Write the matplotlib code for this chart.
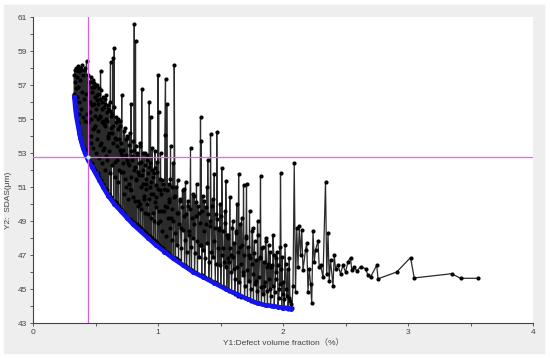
import numpy as np
import matplotlib
matplotlib.use("Agg")
import matplotlib.pyplot as plt
from matplotlib.patches import Rectangle

plt.rcParams['font.family'] = ['Liberation Sans', 'Noto Sans CJK SC', 'DejaVu Sans']

# --- Pareto front (blue) ---
front_x = [0.330, 0.335, 0.340, 0.350, 0.360, 0.370, 0.380, 0.400, 0.420, 0.440,
           0.470, 0.500, 0.530, 0.560, 0.600, 0.650, 0.700, 0.750, 0.800, 0.860,
           0.920, 0.980, 1.050, 1.120, 1.200, 1.280, 1.360, 1.450, 1.540, 1.630,
           1.720, 1.800, 1.860, 1.920, 1.960, 2.000, 2.030, 2.060]
front_y = [56.3, 55.9, 55.5, 55.0, 54.6, 54.2, 53.8, 53.3, 52.9, 52.6,
           52.2, 51.8, 51.4, 51.0, 50.5, 50.0, 49.6, 49.2, 48.8, 48.4,
           48.0, 47.6, 47.2, 46.8, 46.4, 46.0, 45.7, 45.35, 45.0, 44.7,
           44.4, 44.15, 44.05, 44.0, 43.95, 43.9, 43.9, 43.85]

# --- all evaluated designs (black) ---
xa = [0.330, 0.331, 0.333, 0.335, 0.336, 0.338, 0.340, 0.342, 0.344, 0.346,
      0.348, 0.350, 0.352, 0.354, 0.356, 0.358, 0.360, 0.362, 0.364, 0.366,
      0.368, 0.370, 0.372, 0.374, 0.376, 0.378, 0.380, 0.383, 0.386, 0.389,
      0.392, 0.395, 0.398, 0.401, 0.404, 0.407, 0.410, 0.413, 0.416, 0.419,
      0.422, 0.425, 0.428, 0.431, 0.434, 0.437, 0.440, 0.443, 0.446, 0.449]
ya = [56.5, 57.6, 56.0, 57.9, 55.7, 57.2, 55.4, 58.0, 55.2, 56.8,
      57.9, 55.0, 56.3, 57.5, 54.8, 58.1, 54.7, 56.9, 55.3, 57.8,
      54.3, 56.0, 58.0, 54.1, 57.3, 53.9, 55.6, 57.9, 53.7, 56.6,
      58.2, 53.5, 55.1, 57.6, 53.3, 56.2, 57.9, 53.2, 54.9, 58.0,
      52.95, 56.5, 58.4, 52.9, 55.3, 57.6, 52.7, 54.8, 57.2, 52.6]

xb = [0.452, 0.456, 0.460, 0.464, 0.468, 0.472, 0.476, 0.480, 0.484, 0.488,
      0.492, 0.496, 0.500, 0.504, 0.508, 0.512, 0.516, 0.520, 0.524, 0.528,
      0.532, 0.536, 0.540, 0.544, 0.548, 0.552, 0.556, 0.560, 0.564, 0.568,
      0.572, 0.576, 0.580, 0.584, 0.588, 0.592, 0.596, 0.600, 0.605, 0.610,
      0.615, 0.620, 0.625, 0.630, 0.635, 0.640, 0.645, 0.650, 0.655, 0.660,
      0.665, 0.670, 0.675, 0.680, 0.685, 0.690, 0.695, 0.700, 0.705, 0.710]
yb = [56.0, 52.5, 57.5, 53.6, 52.4, 55.8, 57.3, 52.2, 54.5, 56.9,
      52.0, 55.2, 57.0, 51.9, 53.8, 56.4, 51.8, 55.0, 56.8, 51.6,
      53.5, 56.2, 57.84, 51.4, 54.8, 56.0, 51.2, 53.2, 55.7, 51.0,
      54.6, 56.2, 50.9, 52.8, 55.4, 50.8, 54.0, 55.8, 50.6, 53.1,
      55.5, 58.35, 50.4, 54.2, 55.3, 58.6, 50.2, 59.2, 52.5, 50.1,
      54.8, 50.0, 53.4, 55.0, 49.9, 52.0, 54.6, 49.7, 53.0, 56.4]

xc = [0.715, 0.720, 0.725, 0.730, 0.735, 0.740, 0.745, 0.750, 0.755, 0.760,
      0.765, 0.770, 0.775, 0.780, 0.785, 0.790, 0.795, 0.800, 0.805, 0.810,
      0.815, 0.820, 0.825, 0.830, 0.835, 0.840, 0.845, 0.850, 0.855, 0.860,
      0.865, 0.870, 0.875, 0.880, 0.885, 0.890, 0.895, 0.900, 0.905, 0.910,
      0.915, 0.920, 0.925, 0.930, 0.935, 0.940, 0.945, 0.950, 0.955, 0.960,
      0.965, 0.970, 0.975, 0.980, 0.985, 0.990, 0.995, 1.000, 1.005, 1.010]
yc = [49.6, 52.4, 54.3, 49.5, 51.5, 53.8, 49.3, 52.6, 54.0, 49.2,
      51.2, 53.5, 49.1, 50.8, 55.9, 49.0, 52.8, 48.9, 53.2, 60.57,
      48.9, 59.6, 51.5, 48.8, 53.0, 50.2, 48.7, 52.4, 53.4, 48.6,
      51.0, 56.76, 48.5, 52.0, 50.3, 48.4, 53.0, 51.2, 48.3, 52.6,
      50.0, 48.2, 52.2, 56.0, 48.1, 55.1, 50.6, 48.0, 52.0, 49.5,
      47.9, 51.8, 53.1, 47.8, 50.4, 52.5, 47.7, 57.6, 55.4, 47.6]

xd = [1.015, 1.020, 1.025, 1.030, 1.035, 1.040, 1.045, 1.050, 1.055, 1.060,
      1.065, 1.070, 1.075, 1.080, 1.085, 1.090, 1.095, 1.100, 1.105, 1.110,
      1.115, 1.120, 1.125, 1.130, 1.135, 1.140, 1.148, 1.156, 1.164, 1.172,
      1.180, 1.188, 1.196, 1.204, 1.212, 1.220, 1.228, 1.236, 1.244, 1.252,
      1.260, 1.268, 1.276, 1.284, 1.292, 1.300, 1.308, 1.316, 1.324, 1.332,
      1.340, 1.345, 1.350, 1.358, 1.366, 1.374, 1.382, 1.390, 1.398, 1.406,
      1.414, 1.420, 1.428, 1.436, 1.444, 1.450, 1.458, 1.466, 1.470, 1.478,
      1.486, 1.494, 1.502, 1.510, 1.518, 1.526, 1.534, 1.542, 1.550, 1.558]
yd = [50.8, 53.0, 47.5, 51.4, 49.6, 47.4, 50.9, 47.3, 54.06, 57.35,
      47.2, 55.9, 49.8, 47.1, 51.2, 50.3, 47.0, 53.4, 49.2, 46.9,
      51.0, 52.4, 46.8, 58.2, 50.5, 46.8, 49.5, 51.4, 46.7, 50.2,
      48.6, 46.5, 50.8, 49.3, 46.4, 51.3, 46.3, 49.9, 48.2, 46.2,
      53.3, 46.1, 50.6, 48.8, 46.0, 50.1, 51.2, 45.9, 49.5, 47.6,
      55.1, 53.7, 45.8, 50.5, 48.4, 45.7, 49.8, 51.0, 52.6, 45.6,
      49.0, 54.1, 45.5, 50.3, 47.8, 51.76, 45.4, 49.4, 54.25, 45.3,
      48.6, 50.0, 45.2, 52.1, 47.4, 45.1, 49.6, 51.35, 45.0, 48.2]

xe = [1.566, 1.574, 1.582, 1.590, 1.598, 1.606, 1.614, 1.622, 1.630, 1.638,
      1.645, 1.652, 1.660, 1.668, 1.676, 1.684, 1.692, 1.700, 1.708, 1.716,
      1.724, 1.732, 1.740, 1.748, 1.756, 1.764, 1.772, 1.780, 1.788, 1.796,
      1.804, 1.812, 1.820, 1.828, 1.836, 1.844, 1.852, 1.860, 1.868, 1.876,
      1.884, 1.892, 1.900, 1.910, 1.920, 1.930, 1.940, 1.950, 1.960, 1.970,
      1.980, 1.985, 1.990, 2.000, 2.010, 2.020, 2.030, 2.040, 2.050, 2.060,
      2.070, 2.080, 2.090, 2.100]
ye = [44.9, 50.4, 47.0, 44.8, 49.0, 46.2, 44.7, 48.4, 50.0, 44.6,
      51.76, 47.5, 44.55, 49.2, 46.0, 51.1, 44.5, 48.0, 51.2, 44.4,
      47.0, 49.6, 44.3, 46.5, 48.6, 44.25, 47.8, 45.5, 44.2, 49.0,
      44.15, 46.8, 51.66, 44.1, 47.5, 45.2, 44.05, 48.0, 46.3, 44.05,
      47.6, 45.0, 44.0, 46.4, 48.2, 44.0, 45.6, 47.2, 43.95, 45.0,
      51.8, 46.2, 43.9, 45.4, 43.9, 46.5, 44.6, 43.85, 46.8, 44.1,
      43.9, 45.2, 52.4, 44.8]

xf = [2.11, 2.12, 2.13, 2.14, 2.15, 2.16, 2.18, 2.19, 2.20, 2.21,
      2.22, 2.23, 2.24, 2.25, 2.26, 2.28, 2.29, 2.30, 2.32, 2.34,
      2.35, 2.36, 2.37, 2.38, 2.40, 2.41, 2.42, 2.44, 2.46, 2.48,
      2.50, 2.52, 2.54, 2.55, 2.57, 2.59, 2.62, 2.66, 2.68, 2.70,
      2.75, 2.76, 2.91, 3.02, 3.05, 3.35, 3.42, 3.56]
yf = [48.6, 46.3, 48.7, 47.0, 48.5, 46.1, 47.3, 47.7, 44.85, 46.2,
      45.3, 44.2, 48.4, 46.6, 47.3, 47.8, 46.3, 46.4, 45.7, 51.3,
      45.9, 48.3, 45.5, 46.7, 45.2, 47.0, 46.2, 46.4, 45.9, 46.4,
      46.0, 46.6, 46.85, 46.1, 46.3, 46.05, 46.3, 46.2, 45.8, 45.7,
      46.4, 45.6, 46.0, 46.85, 45.65, 45.9, 45.63, 45.63]

# extra designs in the dense band just above the front
xg1 = [0.458, 0.466, 0.474, 0.482, 0.490, 0.498, 0.506, 0.514, 0.522, 0.530,
       0.538, 0.546, 0.554, 0.562, 0.570, 0.578, 0.586, 0.594, 0.602, 0.612,
       0.622, 0.632, 0.642, 0.652, 0.662, 0.672, 0.682, 0.692, 0.702, 0.712]
yg1 = [55.4, 54.0, 56.6, 53.3, 55.9, 54.6, 53.0, 56.1, 54.3, 52.7,
       55.2, 53.6, 52.4, 54.9, 53.3, 52.0, 55.0, 52.6, 53.9, 51.8,
       54.5, 52.3, 53.6, 51.6, 53.8, 52.6, 51.3, 53.2, 51.9, 52.8]

xg2 = [0.718, 0.727, 0.737, 0.747, 0.757, 0.767, 0.777, 0.787, 0.797, 0.807,
       0.817, 0.827, 0.837, 0.847, 0.857, 0.867, 0.877, 0.887, 0.897, 0.907,
       0.917, 0.927, 0.937, 0.947, 0.957, 0.967, 0.977, 0.987, 0.997, 1.007]
yg2 = [51.9, 50.6, 52.8, 51.0, 50.3, 52.3, 50.9, 51.6, 50.4, 52.0,
       50.2, 51.4, 49.9, 51.7, 50.0, 49.7, 51.2, 50.5, 49.5, 50.9,
       49.4, 50.3, 51.0, 49.2, 50.6, 49.0, 50.1, 49.8, 48.9, 49.6]

xg3 = [1.018, 1.032, 1.046, 1.062, 1.078, 1.092, 1.108, 1.122, 1.138, 1.152,
       1.168, 1.184, 1.200, 1.216, 1.232, 1.248, 1.264, 1.280, 1.296, 1.312,
       1.328, 1.344, 1.362, 1.378, 1.394, 1.410, 1.426, 1.442, 1.460, 1.476,
       1.492, 1.508, 1.524, 1.540, 1.556]
yg3 = [49.0, 48.4, 49.6, 48.1, 49.2, 48.6, 47.9, 49.0, 48.3, 47.6,
       48.8, 47.4, 48.5, 47.9, 47.2, 48.4, 47.5, 48.0, 47.1, 47.8,
       46.9, 47.6, 47.3, 46.8, 47.7, 46.6, 47.2, 46.9, 46.5, 47.4,
       46.4, 47.0, 46.6, 46.3, 46.8]

xg4 = [1.570, 1.586, 1.602, 1.618, 1.634, 1.650, 1.664, 1.680, 1.696, 1.712,
       1.728, 1.744, 1.760, 1.776, 1.792, 1.808, 1.824, 1.840, 1.856, 1.872,
       1.888, 1.904, 1.916, 1.934, 1.946, 1.966, 1.976, 1.996, 2.006, 2.026,
       2.046, 2.056]
yg4 = [46.6, 46.0, 46.9, 45.6, 46.3, 45.4, 46.5, 45.8, 45.2, 46.1,
       45.5, 45.0, 45.9, 45.3, 44.9, 45.7, 45.1, 44.7, 45.4, 44.9,
       45.6, 44.6, 45.2, 44.8, 46.0, 44.5, 45.3, 44.7, 44.4, 45.0,
       44.5, 44.3]

# designs in the upper part of the dense cloud
xh1 = [0.454, 0.462, 0.470, 0.478, 0.486, 0.494, 0.502, 0.510, 0.518, 0.526,
       0.534, 0.542, 0.550, 0.558, 0.566, 0.574, 0.582, 0.590, 0.598, 0.607,
       0.617, 0.627, 0.637, 0.647, 0.657, 0.667, 0.677, 0.687, 0.697, 0.707]
yh1 = [57.2, 55.0, 56.9, 54.4, 57.1, 56.3, 55.6, 57.0, 55.9, 56.5,
       55.1, 56.7, 55.6, 56.3, 54.7, 55.9, 56.4, 54.9, 55.6, 54.2,
       56.0, 55.2, 54.6, 55.7, 53.9, 55.1, 54.4, 53.8, 54.9, 53.6]

xh2 = [0.722, 0.732, 0.742, 0.752, 0.762, 0.772, 0.782, 0.792, 0.802, 0.812,
       0.822, 0.832, 0.842, 0.852, 0.862, 0.872, 0.882, 0.892, 0.902, 0.912,
       0.922, 0.932, 0.942, 0.952, 0.962, 0.972, 0.982, 0.992, 1.002, 1.012]
yh2 = [53.2, 54.5, 52.9, 53.9, 52.4, 54.2, 53.1, 52.6, 53.7, 52.2,
       53.4, 52.8, 51.9, 53.6, 52.5, 51.7, 53.0, 52.3, 51.5, 52.9,
       51.8, 52.4, 51.3, 53.3, 51.6, 52.1, 51.1, 51.9, 50.9, 51.5]

xh3 = [1.022, 1.038, 1.052, 1.068, 1.084, 1.098, 1.112, 1.128, 1.144, 1.160,
       1.176, 1.192, 1.208, 1.224, 1.240, 1.256, 1.272, 1.288, 1.304, 1.320,
       1.336, 1.354, 1.370, 1.386, 1.402, 1.418, 1.434, 1.452, 1.468, 1.484,
       1.500, 1.516, 1.532, 1.548]
yh3 = [50.6, 51.2, 49.9, 50.8, 50.1, 51.5, 49.7, 50.4, 51.0, 49.5,
       50.3, 49.8, 50.9, 49.4, 50.2, 49.7, 49.2, 50.5, 49.3, 49.9,
       48.9, 49.6, 50.2, 48.8, 49.4, 48.7, 49.9, 48.6, 49.1, 48.5,
       49.3, 48.4, 48.9, 48.2]

xh4 = [1.562, 1.578, 1.594, 1.610, 1.626, 1.642, 1.656, 1.672, 1.688, 1.704,
       1.720, 1.736, 1.752, 1.768, 1.784, 1.800, 1.816, 1.832, 1.848, 1.864,
       1.880, 1.896, 1.906, 1.926, 1.944, 1.956, 1.974, 1.994, 2.016, 2.036]
yh4 = [48.0, 47.4, 48.6, 47.7, 48.3, 47.2, 48.8, 47.6, 47.0, 48.1,
       47.5, 46.8, 48.4, 47.1, 46.7, 48.2, 46.9, 47.4, 46.6, 47.8,
       46.5, 47.2, 46.3, 47.0, 46.8, 46.4, 47.5, 46.9, 47.6, 46.2]

# chosen design (cross-hair)
sel_x = 0.437
sel_y = 52.75

bx = np.concatenate([xa, xb, xc, xd, xe, xf, xg1, xg2, xg3, xg4, xh1, xh2, xh3, xh4])
by = np.concatenate([ya, yb, yc, yd, ye, yf, yg1, yg2, yg3, yg4, yh1, yh2, yh3, yh4])
order = np.argsort(bx, kind="stable")
bx, by = bx[order], by[order]

fig = plt.figure(figsize=(5.5, 3.58), dpi=100)
fig.patch.set_facecolor("white")
fig.patches.append(Rectangle((4 / 550, 5 / 358), 540 / 550, 348 / 358,
                             transform=fig.transFigure, color="#eeeeee", zorder=-10))
ax = fig.add_axes([33 / 550, 35 / 358, 500 / 550, 306 / 358])
ax.set_zorder(5)
ax.set_facecolor("white")

ax.plot(bx, by, color="#2b2b2b", lw=0.9, zorder=2)
ax.plot(bx, by, "o", color="black", ms=3.0, mew=0, zorder=3)
ax.plot(front_x, front_y, "-o", color="#1414ee", lw=3.2, ms=3.6, mew=0, zorder=4)

ax.axvline(sel_x, color="#d860e8", lw=0.9, zorder=5)
ax.axhline(sel_y, color="#ff55ff", lw=0.9, zorder=5)
ax.plot([sel_x], [sel_y], "o", color="#b0f0f0", ms=3, mew=0, zorder=6)

ax.set_xlim(0, 4)
ax.set_ylim(43, 61)
ax.set_xticks([0, 1, 2, 3, 4])
ax.set_xticks([0.5, 1.5, 2.5, 3.5], minor=True)
ax.set_yticks(np.arange(43, 62, 2))
ax.set_yticks(np.arange(44, 61, 2), minor=True)
ax.tick_params(which="both", direction="out", length=2.5, width=0.6,
               color="#444444", labelsize=6, labelcolor="#444444", pad=1.5)
for s in ["top", "right"]:
    ax.spines[s].set_visible(False)
for s in ["left", "bottom"]:
    ax.spines[s].set_color("#444444")
    ax.spines[s].set_linewidth(0.8)

ax.set_xlabel("Y1:Defect volume fraction（%）", fontsize=6, color="#444444", labelpad=2)
ax.set_ylabel("Y2:  SDAS(μm)", fontsize=6, color="#444444")
ax.yaxis.set_label_coords(-0.042, 0.40)

plt.savefig("out.png", dpi=100)
